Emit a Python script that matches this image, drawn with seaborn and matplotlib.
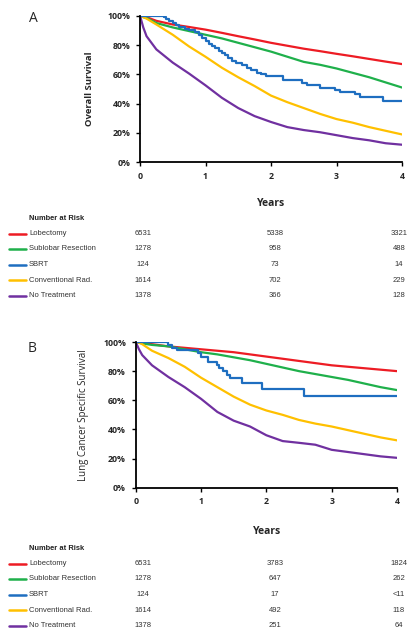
import numpy as np
import pandas as pd
import matplotlib.pyplot as plt
import seaborn as sns
from matplotlib.lines import Line2D
from matplotlib.ticker import PercentFormatter

groups = ["Lobectomy", "Sublobar Resection", "SBRT", "Conventional Rad.", "No Treatment"]
colors = ["#ED1C24", "#1FB04B", "#1E6EC0", "#FFC000", "#7030A0"]

# common time grid for the smooth (large n) curves
t_grid = [0, 0.05, 0.1, 0.25, 0.5, 0.75, 1, 1.25, 1.5, 1.75, 2, 2.25, 2.5, 2.75, 3, 3.25, 3.5, 3.75, 4]

# panel A - overall survival (%)
os_lob = [100, 99.5, 99, 96.5, 94, 92.3, 90.5, 88.3, 86, 83.8, 81.5, 79.5, 77.5, 75.8, 74, 72.3, 70.5, 68.7, 67]
os_sub = [100, 99, 98.5, 95, 92, 89.5, 87, 84.5, 81.5, 78.5, 75.5, 72, 68.5, 66.5, 64, 61, 58, 54.5, 51]
os_rad = [100, 99, 98, 94, 87, 79, 72, 64.5, 58, 52, 45.5, 41, 37, 33, 29.5, 27, 24, 21.5, 19]
os_none = [100, 92, 86, 77, 68, 60.5, 52.5, 44, 37, 31.5, 27.5, 24, 22, 20.5, 18.5, 16.5, 15, 13, 12]
os_sbrt_t = [0, 0.36, 0.4, 0.45, 0.5, 0.55, 0.6, 0.68, 0.75, 0.84, 0.9, 0.95, 1.0, 1.05, 1.1, 1.15,
             1.2, 1.25, 1.3, 1.35, 1.4, 1.47, 1.55, 1.63, 1.7, 1.78, 1.85, 1.93, 2.18, 2.47, 2.55,
             2.75, 2.98, 3.05, 3.28, 3.36, 3.71, 4.0]
os_sbrt = [100, 99, 98, 96.5, 95, 93.5, 92, 91, 90, 89, 87, 85, 83, 81, 79.5, 78,
           76, 74.5, 73, 71, 69, 67.5, 66.5, 64.5, 63, 61, 60, 59, 56.1, 54.3, 52.7,
           50.9, 49.3, 48, 46.4, 44.3, 42, 42]

# panel B - lung cancer specific survival (%)
lcss_lob = [100, 99.8, 99.5, 98.5, 97, 96, 95, 94, 93, 91.5, 90, 88.5, 87, 85.5, 84, 83, 82, 81, 80]
lcss_sub = [100, 99.5, 99, 98, 97, 95, 93, 91.5, 89.5, 87.5, 85, 82.5, 80, 78, 76, 74, 71.5, 69, 67]
lcss_rad = [100, 99.5, 98.5, 94, 89, 83, 75.5, 69, 62.5, 57, 53, 50, 46.5, 44, 42, 39.5, 37, 34.5, 32.5]
lcss_none = [100, 95, 91, 84, 76, 69, 61, 52, 46, 42, 36, 32, 30.8, 29.5, 26, 24.5, 23, 21.5, 20.5]
lcss_sbrt_t = [0, 0.5, 0.55, 0.63, 0.95, 1.0, 1.1, 1.25, 1.28, 1.33, 1.4, 1.45, 1.62, 1.93, 2.58, 4.0]
lcss_sbrt = [100, 98, 95.7, 94.5, 92.2, 90, 86.5, 84, 82, 80, 77.5, 75, 71.6, 68, 63, 63]

# number at risk at 0, 2, 4 years
risk_os = [["6531", "5338", "3321"], ["1278", "958", "488"], ["124", "73", "14"],
           ["1614", "702", "229"], ["1378", "366", "128"]]
risk_lcss = [["6531", "3783", "1824"], ["1278", "647", "262"], ["124", "17", "<11"],
             ["1614", "492", "118"], ["1378", "251", "64"]]

sns.set_style("ticks")
plt.rcParams['font.family'] = ['Open Sans', 'DejaVu Sans']

fig = plt.figure(figsize=(4.16, 6.37), dpi=100)
W, H = 416, 637


def px_axes(l, t, r, b):
    return fig.add_axes([l / W, 1 - b / H, (r - l) / W, (b - t) / H])


def draw_panel(ax, smooth, sbrt_t, sbrt, ylabel, ybold):
    long = []
    for g, vals in zip([groups[0], groups[1], groups[3], groups[4]], smooth):
        long.append(pd.DataFrame({"t": t_grid, "s": vals, "group": g}))
    df = pd.concat(long)
    pal = {g: c for g, c in zip(groups, colors)}
    sns.lineplot(data=df, x="t", y="s", hue="group", palette=pal, lw=1.6,
                 legend=False, ax=ax, estimator=None, sort=False)
    sns.lineplot(x=sbrt_t, y=sbrt, color=colors[2], lw=1.6, drawstyle="steps-post",
                 ax=ax, estimator=None, sort=False)
    ax.set_xlim(0, 4)
    ax.set_ylim(0, 100)
    ax.set_xticks([0, 1, 2, 3, 4])
    ax.set_yticks([0, 20, 40, 60, 80, 100])
    ax.yaxis.set_major_formatter(PercentFormatter(decimals=0))
    ax.tick_params(axis="both", length=3, width=1, color="black", labelsize=6.3, pad=4)
    for lab in ax.get_xticklabels() + ax.get_yticklabels():
        lab.set_fontweight("bold")
    for s in ["left", "bottom"]:
        ax.spines[s].set_linewidth(1.3)
        ax.spines[s].set_color("black")
    sns.despine(ax=ax)
    ax.set_ylabel(ylabel, fontsize=7 if not ybold else 6.8,
                  fontweight="bold" if ybold else "normal")
    ax.set_xlabel("Years", fontsize=7.5, fontweight="bold")


def draw_table(y0, risk):
    tab_font = ['Liberation Sans', 'DejaVu Sans']
    fig.text(29 / W, 1 - y0 / H, "Number at Risk", fontsize=5.4, fontweight="bold",
             family=tab_font, va="center", color="#222222")
    for i, (g, c, row) in enumerate(zip(groups, colors, risk)):
        y = y0 + 15.5 * (i + 1)
        fig.add_artist(Line2D([9 / W, 26 / W], [1 - y / H, 1 - y / H], color=c, lw=1.8))
        fig.text(29 / W, 1 - y / H, g, fontsize=5.5, family=tab_font, va="center",
                 color="#333333")
        for xpx, val in zip([143, 275, 399], row):
            fig.text(xpx / W, 1 - y / H, val, fontsize=5.5, family=tab_font,
                     va="center", ha="center", color="#333333")


axA = px_axes(140, 15.7, 402, 162.3)
draw_panel(axA, [os_lob, os_sub, os_rad, os_none], os_sbrt_t, os_sbrt, "Overall Survival", True)
axA.yaxis.set_label_coords(-0.176, 0.5)
axA.xaxis.set_label_coords(0.5, -0.245)
fig.text(33 / W, 1 - 18 / H, "A", fontsize=10, va="center", ha="center")
draw_table(218, risk_os)

axB = px_axes(135.7, 342, 397, 487.7)
draw_panel(axB, [lcss_lob, lcss_sub, lcss_rad, lcss_none], lcss_sbrt_t, lcss_sbrt,
           "Lung Cancer Specific Survival", False)
axB.yaxis.set_label_coords(-0.179, 0.5)
axB.xaxis.set_label_coords(0.502, -0.263)
fig.text(32 / W, 1 - 348 / H, "B", fontsize=10, va="center", ha="center")
draw_table(548, risk_lcss)

fig.savefig("out.png", dpi=100)
